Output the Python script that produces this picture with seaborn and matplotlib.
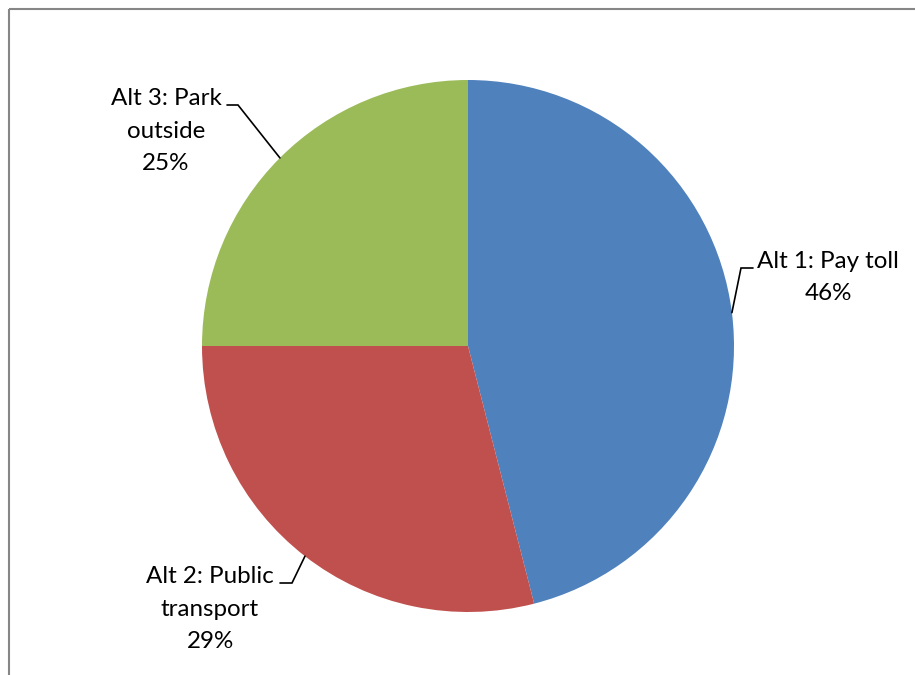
import numpy as np
import matplotlib
matplotlib.use("Agg")
import matplotlib.pyplot as plt
import seaborn as sns

# ---- data ----
categories = ["Alt 1: Pay toll", "Alt 2: Public transport", "Alt 3: Park outside"]
shares = [46, 29, 25]
colors = ["#4F81BD", "#C0504D", "#9BBB59"]
# wrapped label lines (layout of the category names)
label_lines = [["Alt 1: Pay toll"], ["Alt 2: Public", "transport"], ["Alt 3: Park", "outside"]]

sns.set_theme(style="white")
plt.rcParams["font.family"] = ["Lato", "DejaVu Sans"]

W, H = 915, 675
fig = plt.figure(figsize=(W / 100, H / 100), dpi=100)
ax = fig.add_axes([0, 0, 1, 1])

def Y(y):
    return H - y

cx, cy, R = 468, 346, 266
wedges, _ = ax.pie(shares, colors=colors, startangle=90, counterclock=False,
                   center=(cx, Y(cy)), radius=R,
                   wedgeprops=dict(linewidth=0))
ax.set_xlim(0, W)
ax.set_ylim(0, H)
ax.set_aspect("equal")
ax.axis("off")

# frame (chart area border)
border = "#868686"
ax.plot([9, 9], [Y(H + 5), Y(9)], color=border, lw=1.5, clip_on=False, solid_capstyle="butt")
ax.plot([9, W + 5], [Y(9), Y(9)], color=border, lw=1.5, clip_on=False, solid_capstyle="butt")

# label placement (layout): text centre x, first baseline y, elbow, line end
layout = [
    dict(tx=828, b0=268, elbow=(741, 268), end=(753, 268)),
    dict(tx=210, b0=583, elbow=(292, 583), end=(280, 583)),
    dict(tx=166, b0=105, elbow=(238, 105), end=(227, 105)),
]
pitch = 32.5
fs = 17.4

for w, lines, v, L in zip(wedges, label_lines, shares, layout):
    mid = np.deg2rad((w.theta1 + w.theta2) / 2)
    ex = cx + R * np.cos(mid)
    ey = Y(cy) + R * np.sin(mid)
    ax.plot([ex, L["elbow"][0], L["end"][0]],
            [ey, Y(L["elbow"][1]), Y(L["end"][1])],
            color="black", lw=1.2, solid_joinstyle="miter")
    all_lines = lines + [f"{v}%"]
    for i, t in enumerate(all_lines):
        ax.text(L["tx"], Y(L["b0"] + i * pitch), t, ha="center", va="baseline",
                fontsize=fs, color="black")

fig.savefig("out.png", dpi=100, facecolor="white")
